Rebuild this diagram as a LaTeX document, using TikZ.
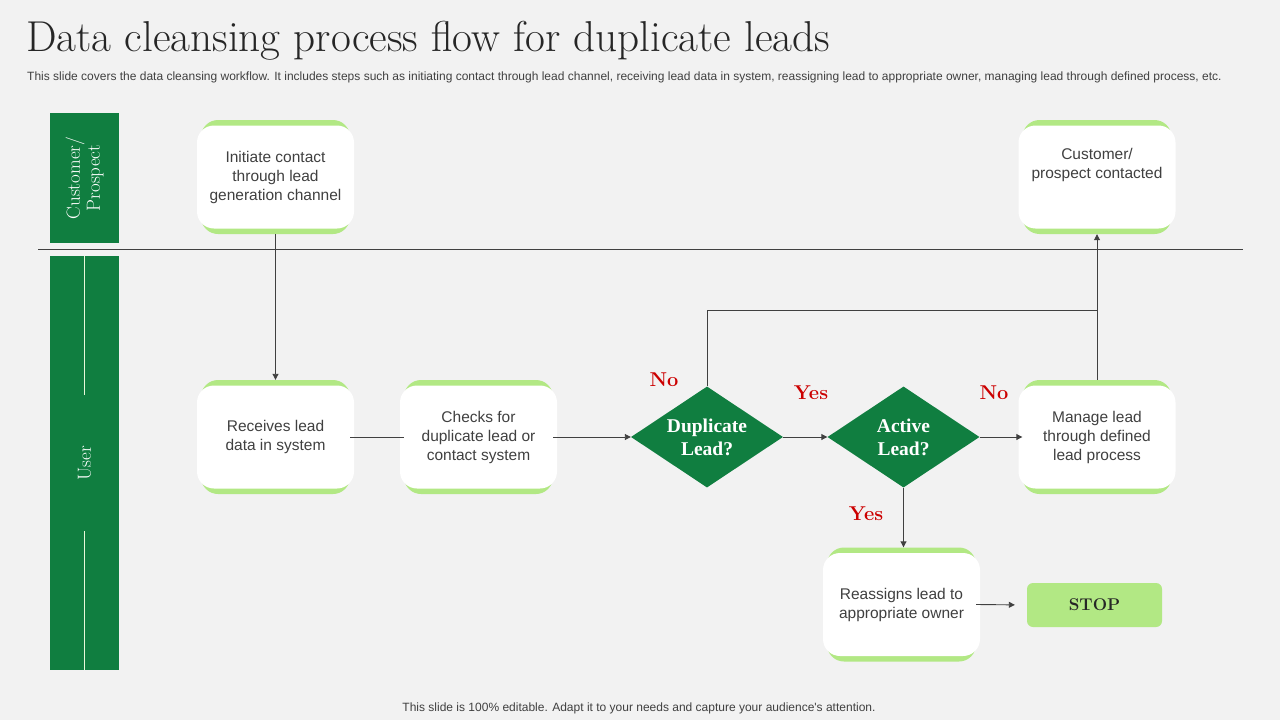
\documentclass[tikz,border=0pt]{standalone}
\usepackage{fontspec}
\newfontfamily\arialf{Liberation Sans}
\newfontfamily\timesf{Liberation Serif}
\usetikzlibrary{shapes.geometric,arrows.meta}
\definecolor{bg}{RGB}{242,242,242}
\definecolor{dgreen}{RGB}{16,126,64}
\definecolor{lgreen}{RGB}{178,232,132}
\definecolor{txtgray}{RGB}{64,64,64}
\definecolor{lblred}{RGB}{204,0,0}
\definecolor{linegray}{RGB}{64,64,64}
\tikzset{
  gbox/.style={fill=lgreen, rounded corners=17pt, minimum width=149pt, minimum height=114pt, inner sep=0pt},
  wbox/.style={fill=white, rounded corners=17pt, minimum width=157pt, minimum height=103pt, inner sep=0pt,
    align=center, text=txtgray, font=\arialf\fontsize{15.5}{19}\selectfont},
  dia/.style={diamond, fill=dgreen, minimum width=152pt, minimum height=101pt, aspect=1.5, inner sep=0pt,
    align=center, text=white, font=\timesf\bfseries\fontsize{19.5}{23}\selectfont},
  lanetxt/.style={text=white, font=\fontsize{19}{20}\selectfont, align=center, rotate=90},
  lbl/.style={text=lblred, font=\bfseries\fontsize{20}{22}\selectfont},
  conn/.style={draw=linegray, line width=0.9pt},
  arr/.style={conn, -{Triangle[length=6pt,width=6pt]}},
}
\newcommand\leadbox[4]{%
  \node[gbox] (#1) at (#2,#3) {};
  \node[wbox] at (#1.center) {#4};}
\begin{document}
\begin{tikzpicture}[x=1pt,y=-1pt]
\useasboundingbox (0,0) rectangle (1280,720);
\fill[bg] (0,0) rectangle (1280,720);
% title
\node[anchor=west, inner sep=0pt, text=black!85, font=\fontsize{43.2}{45}\selectfont] (title) at (26,41) {Data cleansing process flow for duplicate leads};
\node[anchor=west, inner sep=0pt, text=txtgray, font=\arialf\fontsize{12}{13}\selectfont] (sub) at (27,77) {This slide covers the data cleansing workflow. It includes steps such as initiating contact through lead channel, receiving lead data in system, reassigning lead to appropriate owner, managing lead through defined process, etc.};
% lanes
\fill[dgreen] (50,113) rectangle (119,243);
\node[lanetxt] (l1) at (84.5,178) {Customer/\\Prospect};
\fill[dgreen] (50,256) rectangle (119,670);
\draw[white!70!lgreen, line width=0.8pt] (84,256) -- (84,395);
\draw[white!70!lgreen, line width=0.8pt] (84,531) -- (84,670);
\node[lanetxt] (l2) at (84.5,463) {User};
\draw[conn] (38,249) -- (1243,249);
% boxes
\leadbox{init}{275.5}{177}{Initiate contact\\through lead\\generation channel}
\leadbox{cust}{1097}{177}{Customer/\\prospect contacted\\[8pt]}
\leadbox{recv}{275.5}{437}{Receives lead\\data in system}
\leadbox{check}{478.5}{437}{Checks for\\duplicate lead or\\contact system}
\leadbox{manage}{1097}{437}{Manage lead\\through defined\\lead process}
\leadbox{reas}{901.5}{604.5}{Reassigns lead to\\appropriate owner}
\node[fill=lgreen, rounded corners=6pt, minimum width=135pt, minimum height=44pt, inner sep=0pt,
  text=black!85, font=\bfseries\fontsize{17}{20}\selectfont] (stop) at (1094.5,605) {STOP};
% diamonds
\node[dia] (dup) at (707,437) {Duplicate\\Lead?};
\node[dia] (act) at (903.5,437) {Active\\Lead?};
% connectors
\draw[arr] (init.south) -- (recv.north);
\draw[conn] (recv.east) -- (check.west);
\draw[arr] (check.east) -- (dup.west);
\draw[arr] (dup.east) -- (act.west);
\draw[arr] (act.east) -- (manage.west);
\draw[arr] (manage.north) -- (cust.south);
\coordinate (j) at (1097,310);
\draw[conn] (dup.north) |- (j);
\draw[arr] (act.south) -- (act.south |- reas.north);
\draw[arr, shorten >=12pt] (reas.east) -- (stop.west);
% labels
\node[lbl] (n1) at (664,380) {No};
\node[lbl] (y1) at (811,393) {Yes};
\node[lbl] (n2) at (994,393) {No};
\node[lbl] (y2) at (866,514) {Yes};
% footer
\node[text=txtgray, font=\arialf\fontsize{12}{13}\selectfont] (foot) at (639,708) {This slide is 100\% editable. Adapt it to your needs and capture your audience's attention.};
\end{tikzpicture}
\end{document}
